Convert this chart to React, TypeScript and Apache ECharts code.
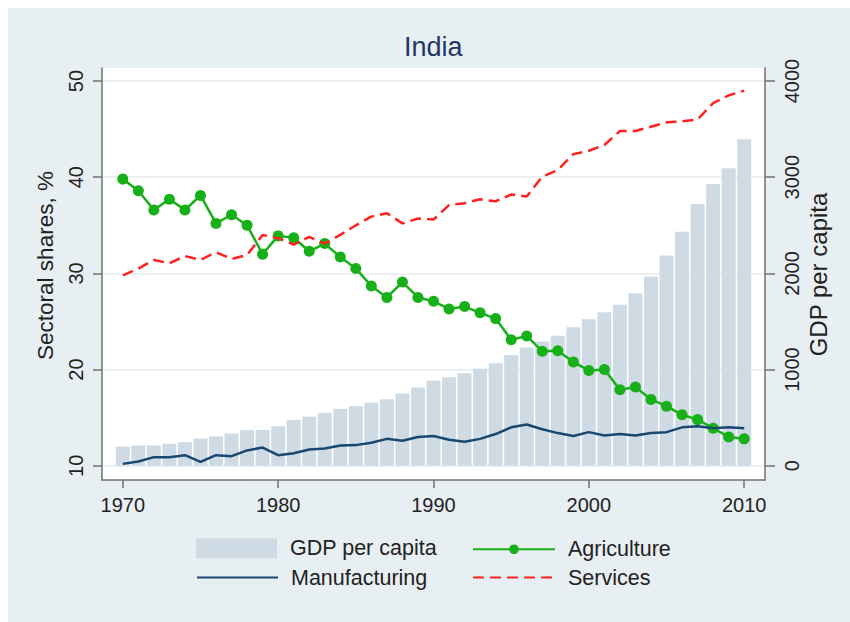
import React, { useEffect, useRef } from "react";
import * as echarts from "echarts";

const years = [
  1970, 1971, 1972, 1973, 1974, 1975, 1976, 1977, 1978, 1979,
  1980, 1981, 1982, 1983, 1984, 1985, 1986, 1987, 1988, 1989,
  1990, 1991, 1992, 1993, 1994, 1995, 1996, 1997, 1998, 1999,
  2000, 2001, 2002, 2003, 2004, 2005, 2006, 2007, 2008, 2009, 2010,
];

const gdpPerCapita = [
  200, 211, 211, 229, 246, 284, 305, 336, 371, 371,
  412, 478, 512, 551, 592, 620, 655, 693, 751, 814,
  886, 921, 963, 1008, 1067, 1153, 1229, 1292, 1351, 1441,
  1524, 1597, 1673, 1794, 1967, 2185, 2434, 2722, 2930, 3093, 3394,
];

const agriculture = [
  39.8, 38.6, 36.6, 37.7, 36.6, 38.1, 35.2, 36.1, 35.0, 32.0,
  33.9, 33.7, 32.3, 33.1, 31.7, 30.5, 28.7, 27.5, 29.1, 27.5,
  27.1, 26.3, 26.55, 25.9, 25.3, 23.1, 23.5, 21.9, 21.95, 20.8,
  19.9, 20.0, 17.9, 18.2, 16.9, 16.2, 15.3, 14.8, 13.9, 13.0, 12.8,
];

const manufacturing = [
  10.2, 10.45, 10.9, 10.9, 11.1, 10.4, 11.1, 11.0, 11.6, 11.9,
  11.1, 11.3, 11.7, 11.8, 12.1, 12.15, 12.4, 12.8, 12.6, 13.0,
  13.1, 12.7, 12.5, 12.8, 13.3, 14.0, 14.3, 13.8, 13.4, 13.1,
  13.5, 13.15, 13.3, 13.15, 13.4, 13.5, 14.0, 14.1, 13.9, 14.0, 13.9,
];

const services = [
  29.8, 30.5, 31.4, 31.05, 31.8, 31.4, 32.2, 31.5, 31.9, 34.0,
  33.65, 33.0, 33.8, 33.1, 34.0, 35.0, 35.9, 36.25, 35.2, 35.7,
  35.6, 37.1, 37.3, 37.7, 37.5, 38.2, 38.0, 40.05, 40.75, 42.4,
  42.75, 43.35, 44.8, 44.8, 45.25, 45.7, 45.8, 46.0, 47.7, 48.5, 49.0,
];

const FONT = '"Liberation Sans", Arial, Helvetica, sans-serif';
const AXIS = "#707070";
const TXT = "#222222";
const BG = "#e8eff2";
const GREEN = "#18b018";
const NAVY = "#1a476f";
const RED = "#ff2020";
const BAR = "#cfdbe4";

export default function App() {
  const ref = useRef<HTMLDivElement>(null);

  useEffect(() => {
    const chart = echarts.init(ref.current!, null, { renderer: "svg" });
    const pair = (arr: number[]) => years.map((y, i) => [y, arr[i]]);

    const legendBase = {
      padding: 0,
      orient: "horizontal",
      textStyle: { fontSize: 21.5, color: TXT, fontFamily: FONT, padding: [0, 0, 0, 8] },
    };

    chart.setOption({
      animation: false,
      backgroundColor: BG,
      textStyle: { fontFamily: FONT },
      grid: [
        { left: 94, right: 85, top: 60, bottom: 142, show: true, backgroundColor: "#ffffff", borderWidth: 0, z: -1 },
        { left: 94, right: 85, top: 73, bottom: 156.2 },
        { left: 114.8, right: 105.8, top: 73, bottom: 156.2 },
      ],
      xAxis: [
        {
          gridIndex: 0, type: "value", min: 0, max: 1,
          axisLine: { show: true, onZero: false, lineStyle: { color: AXIS, width: 1.5 } },
          axisTick: { show: false }, axisLabel: { show: false }, splitLine: { show: false },
        },
        { gridIndex: 1, type: "value", min: 0, max: 1, show: false },
        {
          gridIndex: 2, type: "value", min: 1970, max: 2010, interval: 10, offset: 14.2,
          axisLine: { show: false, onZero: false },
          axisTick: { show: true, length: 8, lineStyle: { color: AXIS, width: 1.5 } },
          axisLabel: { fontSize: 20, color: TXT, fontFamily: FONT, margin: 15, formatter: (v: number) => String(v) },
          splitLine: { show: false },
        },
      ],
      yAxis: [
        {
          gridIndex: 0, type: "value", min: 0, max: 1, position: "left",
          axisLine: { show: true, onZero: false, lineStyle: { color: AXIS, width: 1.5 } },
          axisTick: { show: false }, axisLabel: { show: false }, splitLine: { show: false },
        },
        {
          gridIndex: 0, type: "value", min: 0, max: 1, position: "right",
          axisLine: { show: true, onZero: false, lineStyle: { color: AXIS, width: 1.5 } },
          axisTick: { show: false }, axisLabel: { show: false }, splitLine: { show: false },
        },
        {
          gridIndex: 1, type: "value", min: 10, max: 50, interval: 10,
          axisLine: { show: false }, axisTick: { show: false }, axisLabel: { show: false },
          splitLine: { show: true, lineStyle: { color: "#e4ebf0", width: 1.5 } },
        },
        {
          gridIndex: 2, type: "value", min: 10, max: 50, interval: 10, position: "left", offset: 20.8,
          axisLine: { show: false, onZero: false },
          axisTick: { show: true, length: 9, lineStyle: { color: AXIS, width: 1.5 } },
          axisLabel: { rotate: 90, fontSize: 20, color: TXT, fontFamily: FONT, margin: 16 },
          splitLine: { show: false },
        },
        {
          gridIndex: 2, type: "value", min: 0, max: 4000, interval: 1000, position: "right", offset: 20.8,
          axisLine: { show: false, onZero: false },
          axisTick: { show: true, length: 10, lineStyle: { color: AXIS, width: 1.5 } },
          axisLabel: { rotate: 90, fontSize: 20, color: TXT, fontFamily: FONT, margin: 16.5, formatter: (v: number) => String(v) },
          splitLine: { show: false },
        },
      ],
      legend: [
        { ...legendBase, data: [{ name: "GDP per capita", icon: "rect" }], left: 188, top: 529.25, itemWidth: 81, itemHeight: 20 },
        { ...legendBase, data: ["Agriculture"], left: 464, top: 530.25, itemWidth: 82, itemHeight: 12 },
        { ...legendBase, data: ["Manufacturing"], left: 188, top: 558.5, itemWidth: 81, itemHeight: 0.1 },
        { ...legendBase, data: ["Services"], left: 464, top: 558.5, itemWidth: 82, itemHeight: 0.1 },
      ],
      graphic: [
        {
          type: "text", x: 425.3, y: 39.2, z: 10,
          style: { text: "India", fontSize: 27, fill: "#1f3864", fontFamily: FONT, align: "center", verticalAlign: "middle" },
        },
        {
          type: "text", x: 37.5, y: 257.5, rotation: Math.PI / 2, z: 10,
          style: { text: "Sectoral shares, %", fontSize: 22.5, fill: TXT, fontFamily: FONT, align: "center", verticalAlign: "middle" },
        },
        {
          type: "text", x: 810.3, y: 266.5, rotation: Math.PI / 2, z: 10,
          style: { text: "GDP per capita", fontSize: 24, fill: TXT, fontFamily: FONT, align: "center", verticalAlign: "middle" },
        },
      ],
      series: [
        {
          name: "GDP per capita", type: "bar", xAxisIndex: 2, yAxisIndex: 4,
          data: pair(gdpPerCapita), barWidth: 14, clip: false,
          itemStyle: { color: BAR }, z: 2,
        },
        {
          name: "Agriculture", type: "line", xAxisIndex: 2, yAxisIndex: 3,
          data: pair(agriculture), symbol: "circle", symbolSize: 11, showSymbol: true,
          lineStyle: { color: GREEN, width: 2.5 }, itemStyle: { color: GREEN }, z: 3,
        },
        {
          name: "Manufacturing", type: "line", xAxisIndex: 2, yAxisIndex: 3,
          data: pair(manufacturing), symbol: "circle", showSymbol: false,
          lineStyle: { color: NAVY, width: 2.5 }, itemStyle: { color: NAVY }, z: 4,
        },
        {
          name: "Services", type: "line", xAxisIndex: 2, yAxisIndex: 3,
          data: pair(services), symbol: "circle", showSymbol: false,
          lineStyle: { color: RED, width: 2.5, type: [11, 6] }, itemStyle: { color: RED }, z: 5,
        },
      ],
    });

    return () => chart.dispose();
  }, []);

  return (
    <div
      ref={ref}
      style={{ position: "absolute", left: 8, top: 8, width: 842, height: 614, background: BG }}
    />
  );
}
